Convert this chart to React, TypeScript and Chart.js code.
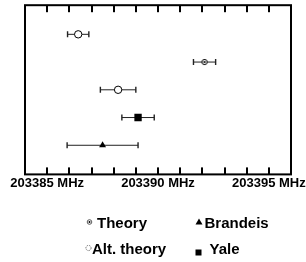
import React, { useEffect, useRef } from 'react';
import { Chart, registerables } from 'chart.js';

Chart.register(...registerables);

const seriesLabels = ['Theory', 'Alt. theory', 'Brandeis', 'Yale'];

const theoryX = [203392.1];
const theoryY = [4];
const theoryErr = [0.5];

const altTheoryX = [203386.4, 203388.2];
const altTheoryY = [5, 3];
const altTheoryErr = [0.48, 0.8];

const brandeisX = [203387.5];
const brandeisY = [1];
const brandeisErr = [1.6];

const yaleX = [203389.1];
const yaleY = [2];
const yaleErr = [0.73];

const labeledTicks = [203385, 203390, 203395];
const minorTicks = [203385, 203386, 203387, 203388, 203389, 203390, 203391, 203392, 203393, 203394, 203395];
const xMin = 203384;
const xMax = 203396;
const yMin = -0.05;
const yMax = 6.05;

const FONT = 'Arial, "Liberation Sans", sans-serif';

function makeTheoryMarker(): HTMLCanvasElement {
  const c = document.createElement('canvas');
  c.width = 8;
  c.height = 8;
  const g = c.getContext('2d')!;
  g.beginPath();
  g.arc(4, 4, 2.6, 0, Math.PI * 2);
  g.fillStyle = '#fff';
  g.fill();
  g.lineWidth = 1;
  g.strokeStyle = '#000';
  g.stroke();
  g.beginPath();
  g.arc(4, 4, 1.1, 0, Math.PI * 2);
  g.fillStyle = '#000';
  g.fill();
  return c;
}

function pts(xs: number[], ys: number[], es: number[]) {
  return xs.map((x, i) => ({ x, y: ys[i], err: es[i] }));
}

const errorBarPlugin = {
  id: 'errorBars',
  beforeDatasetsDraw(chart: any) {
    const ctx = chart.ctx;
    const xs = chart.scales.x;
    ctx.save();
    chart.data.datasets.forEach((ds: any, di: number) => {
      const meta = chart.getDatasetMeta(di);
      meta.data.forEach((el: any, i: number) => {
        const d = ds.data[i];
        const x1 = xs.getPixelForValue(d.x - d.err);
        const x2 = xs.getPixelForValue(d.x + d.err);
        const y = el.y;
        ctx.strokeStyle = '#222';
        ctx.lineWidth = 1;
        ctx.beginPath();
        ctx.moveTo(x1, y);
        ctx.lineTo(x2, y);
        ctx.stroke();
        ctx.lineWidth = 1.4;
        ctx.beginPath();
        ctx.moveTo(x1, y - 3);
        ctx.lineTo(x1, y + 3);
        ctx.moveTo(x2, y - 3);
        ctx.lineTo(x2, y + 3);
        ctx.stroke();
      });
    });
    ctx.restore();
  },
};

const framePlugin = {
  id: 'frameBox',
  afterDraw(chart: any) {
    const ctx = chart.ctx;
    const a = chart.chartArea;
    const xs = chart.scales.x;
    ctx.save();
    ctx.fillStyle = '#000';
    minorTicks.forEach((v) => {
      const px = Math.round(xs.getPixelForValue(v));
      ctx.fillRect(px - 1, a.top, 2, 7);
      ctx.fillRect(px - 1, a.bottom - 7, 2, 7);
    });
    ctx.strokeStyle = '#000';
    ctx.lineWidth = 2;
    ctx.strokeRect(a.left, a.top, a.right - a.left, a.bottom - a.top);
    ctx.restore();
  },
};

const legendPlugin = {
  id: 'gridLegend',
  afterDraw(chart: any) {
    const ctx = chart.ctx;
    ctx.save();
    ctx.font = 'bold 15px ' + FONT;
    ctx.fillStyle = '#000';
    ctx.textAlign = 'left';
    ctx.textBaseline = 'alphabetic';
    const rows = [
      { label: seriesLabels[0], tx: 97, ty: 227.5, icon: 'theory', ix: 89.5, iy: 222 },
      { label: seriesLabels[2], tx: 204.5, ty: 227.5, icon: 'triangle', ix: 199, iy: 222 },
      { label: seriesLabels[1], tx: 92, ty: 254, icon: 'alt', ix: 88.5, iy: 248 },
      { label: seriesLabels[3], tx: 209.5, ty: 254, icon: 'square', ix: 198.5, iy: 252.5 },
    ];
    rows.forEach((r) => {
      ctx.fillStyle = '#000';
      ctx.fillText(r.label, r.tx, r.ty);
      if (r.icon === 'theory') {
        ctx.beginPath();
        ctx.arc(r.ix, r.iy, 2.3, 0, Math.PI * 2);
        ctx.lineWidth = 0.8;
        ctx.strokeStyle = '#333';
        ctx.stroke();
        ctx.beginPath();
        ctx.arc(r.ix, r.iy, 1, 0, Math.PI * 2);
        ctx.fill();
      } else if (r.icon === 'alt') {
        ctx.beginPath();
        ctx.setLineDash([1.5, 1]);
        ctx.arc(r.ix, r.iy, 2.6, 0, Math.PI * 2);
        ctx.lineWidth = 0.8;
        ctx.strokeStyle = '#555';
        ctx.stroke();
        ctx.setLineDash([]);
      } else if (r.icon === 'triangle') {
        ctx.beginPath();
        ctx.moveTo(r.ix, r.iy - 3.5);
        ctx.lineTo(r.ix + 3.5, r.iy + 2.5);
        ctx.lineTo(r.ix - 3.5, r.iy + 2.5);
        ctx.closePath();
        ctx.fill();
      } else {
        ctx.fillRect(r.ix - 3, r.iy - 3, 6, 6);
      }
    });
    ctx.restore();
  },
};

export default function App() {
  const ref = useRef<HTMLCanvasElement>(null);

  useEffect(() => {
    if (!ref.current) return;
    const theoryMarker = makeTheoryMarker();
    const chart = new Chart(ref.current, {
      type: 'scatter',
      data: {
        datasets: [
          {
            label: seriesLabels[0],
            data: pts(theoryX, theoryY, theoryErr),
            pointStyle: theoryMarker as any,
            pointRadius: 4,
          },
          {
            label: seriesLabels[1],
            data: pts(altTheoryX, altTheoryY, altTheoryErr),
            pointStyle: 'circle',
            pointRadius: 3.7,
            backgroundColor: '#fff',
            borderColor: '#000',
            borderWidth: 1,
          },
          {
            label: seriesLabels[2],
            data: pts(brandeisX, brandeisY, brandeisErr),
            pointStyle: 'triangle',
            pointRadius: 4,
            backgroundColor: '#000',
            borderColor: '#000',
            borderWidth: 0,
          },
          {
            label: seriesLabels[3],
            data: pts(yaleX, yaleY, yaleErr),
            pointStyle: 'rect',
            pointRadius: 5.2,
            backgroundColor: '#000',
            borderColor: '#000',
            borderWidth: 0,
          },
        ] as any,
      },
      options: {
        animation: false,
        responsive: false,
        layout: { padding: { left: 25, right: 15, top: 5, bottom: 70 } },
        plugins: {
          legend: { display: false },
          tooltip: { enabled: false },
        },
        scales: {
          x: {
            type: 'linear',
            min: xMin,
            max: xMax,
            grid: { display: false, drawTicks: false },
            border: { display: false },
            ticks: {
              stepSize: 1,
              autoSkip: false,
              minRotation: 0,
              maxRotation: 0,
              padding: 1,
              color: '#000',
              font: { family: FONT, size: 13, weight: 'bold' },
              callback: (v: any) => (labeledTicks.includes(Number(v)) ? `${v} MHz` : ''),
            },
          },
          y: {
            type: 'linear',
            display: false,
            min: yMin,
            max: yMax,
          },
        },
      } as any,
      plugins: [errorBarPlugin, framePlugin, legendPlugin],
    });
    return () => chart.destroy();
  }, []);

  return (
    <div style={{ position: 'absolute', left: 0, top: 0, width: 306, height: 262 }}>
      <canvas ref={ref} width={306} height={262} style={{ display: 'block', width: 306, height: 262 }} />
    </div>
  );
}
